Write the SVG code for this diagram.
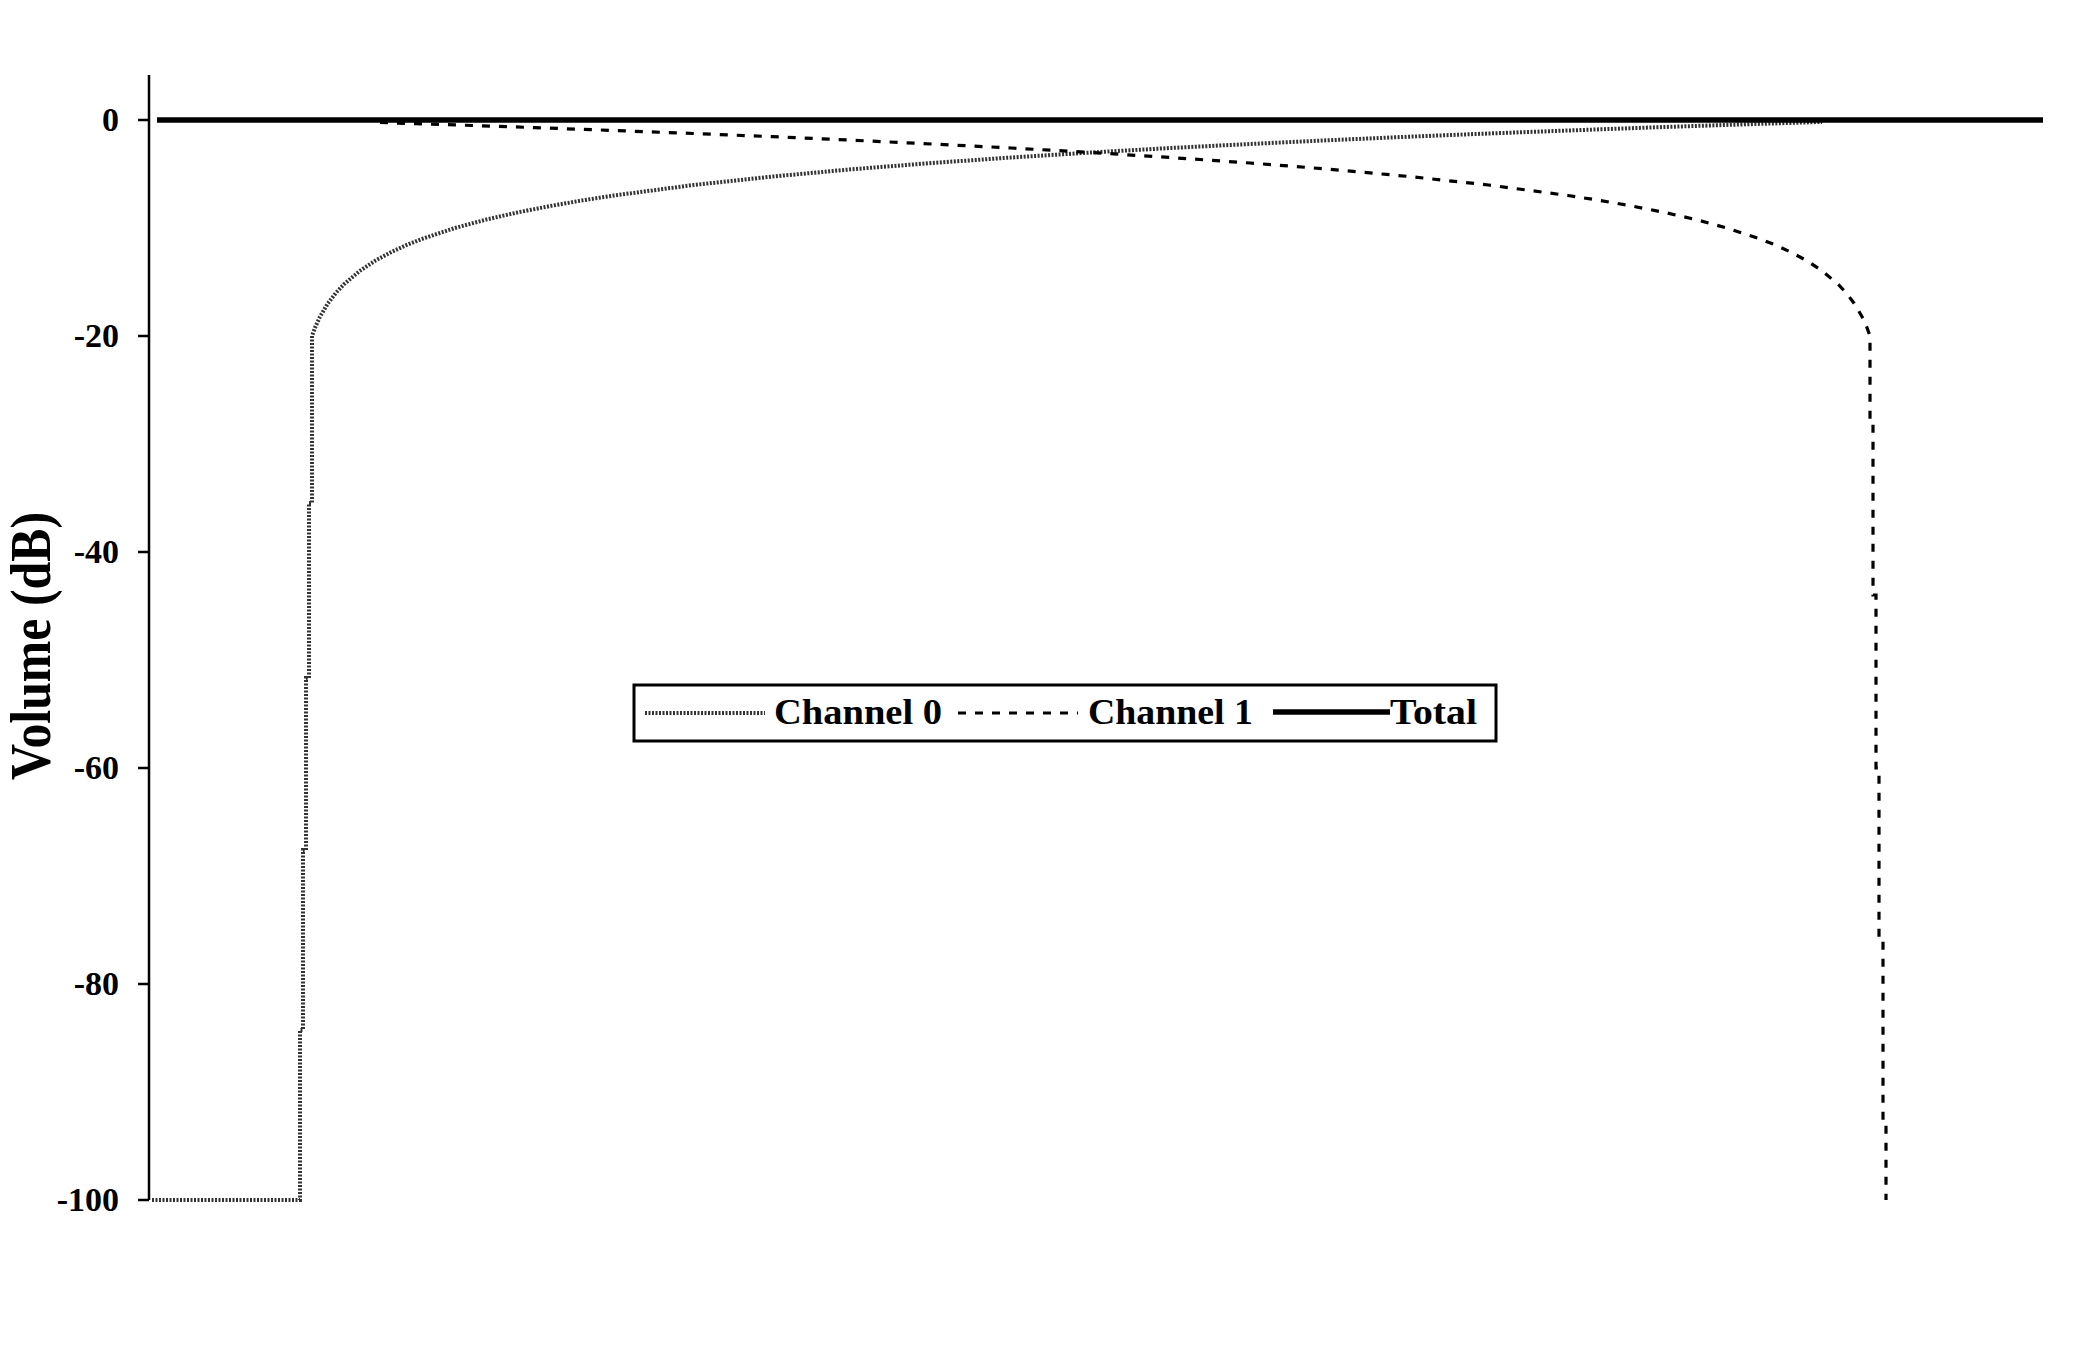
<svg xmlns="http://www.w3.org/2000/svg" width="2097" height="1347" viewBox="0 0 2097 1347">
<style>
text{font-family:"Liberation Serif","Times New Roman",serif;font-weight:bold;fill:#000}
.tick{font-size:34px;text-anchor:end}
.leg{font-size:36px}
.ax{stroke:#000;stroke-width:2.5;fill:none}
.ch0{stroke:#333;stroke-width:4;fill:none;stroke-dasharray:2 1.5}
.ch1{stroke:#000;stroke-width:3.2;fill:none;stroke-dasharray:8 9}
.tot{stroke:#000;stroke-width:5.5;fill:none}
</style>
<rect width="2097" height="1347" fill="#fff"/>
<g id="axis">
<path class="ax" d="M149,75 V1200 M138,120 H149 M138,336 H149 M138,552 H149 M138,768 H149 M138,984 H149 M138,1200 H149"/>
<text class="tick" x="119" y="131">0</text>
<text class="tick" x="119" y="347">-20</text>
<text class="tick" x="119" y="563">-40</text>
<text class="tick" x="119" y="779">-60</text>
<text class="tick" x="119" y="995">-80</text>
<text class="tick" x="119" y="1211">-100</text>
<text x="0" y="0" font-size="56" textLength="268" lengthAdjust="spacingAndGlyphs" text-anchor="middle" transform="translate(50,646) rotate(-90)">Volume (dB)</text>
</g>
<g id="series">
<path id="channel0" class="ch0" d="M152,1200 H300 V1030 H303 V850 H306 V678 H309 V503 H312 V336 L315.1,327.4 L319.9,317 L327.8,303.5 L335.8,293 L343.7,284.5 L359.6,271 L375.5,260.5 L391.4,252 L407.3,244.7 L423.2,238.5 L455,228 L486.8,219.4 L518.6,212.2 L550.4,206 L582.2,200.4 L614,195.5 L693.5,185 L773,176.5 L852.5,169.2 L932,163 L1011.5,157.5 L1091,152.5 L1170.5,148 L1250,144 L1329.5,140.2 L1409,136.7 L1488.5,133.5 L1568,130.5 L1647.5,127.6 L1727,124.9 L1806.5,122.4 L1822,121.9"/>
<path id="channel1" class="ch1" d="M380,122.5 L455,124.9 L534.5,127.6 L614,130.5 L693.5,133.5 L773,136.7 L852.5,140.2 L932,144 L1011.5,148 L1091,152.5 L1170.5,157.5 L1250,163 L1329.5,169.2 L1409,176.5 L1488.5,185 L1568,195.5 L1599.8,200.4 L1631.6,206 L1663.4,212.2 L1695.2,219.4 L1727,228 L1758.8,238.5 L1774.7,244.7 L1790.6,252 L1806.5,260.5 L1822.4,271 L1838.3,284.5 L1846.3,293 L1854.2,303.5 L1862.2,317 L1866.9,327.4 L1870,336 V420 H1873 V595 H1876 V768 H1879 V940 H1883 V1122 H1886 V1200"/>
<path id="total" class="tot" d="M157,120 H2043"/>
</g>
<g id="legend">
<rect x="634" y="685" width="862" height="56" fill="#fff" stroke="#000" stroke-width="3"/>
<path class="ch0" d="M645,713 H765"/>
<text class="leg" x="774" y="724" textLength="168" lengthAdjust="spacingAndGlyphs">Channel 0</text>
<path class="ch1" d="M958,713 H1078"/>
<text class="leg" x="1088" y="724" textLength="165" lengthAdjust="spacingAndGlyphs">Channel 1</text>
<path class="tot" d="M1273,712 H1390"/>
<text class="leg" x="1390" y="724" textLength="87" lengthAdjust="spacingAndGlyphs">Total</text>
</g>
</svg>
